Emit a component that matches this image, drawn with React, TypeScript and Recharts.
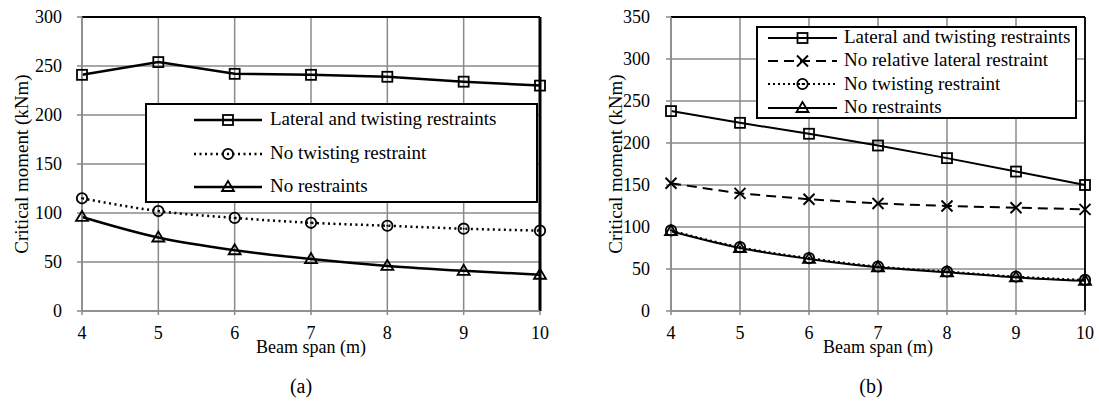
import React from "react";
import {
  LineChart,
  Line,
  XAxis,
  YAxis,
  CartesianGrid,
  ReferenceLine,
  Legend,
} from "recharts";

// ---------- data ----------
const spans = [4, 5, 6, 7, 8, 9, 10];

const aLateralTwisting = [241, 254, 242, 241, 239, 234, 230];
const aNoTwisting = [115, 102, 95, 90, 87, 84, 82];
const aNoRestraints = [96, 75, 62, 53, 46, 41, 37];

const bLateralTwisting = [238, 224, 211, 197, 182, 166, 150];
const bNoRelativeLateral = [152, 140, 133, 128, 125, 123, 121];
const bNoTwisting = [96, 76, 63, 53, 47, 41, 37];
const bNoRestraints = [95, 75, 62, 52, 46, 40, 36];

const aYTicks = [0, 50, 100, 150, 200, 250, 300];
const bYTicks = [0, 50, 100, 150, 200, 250, 300, 350];

const labelLateral = "Lateral and twisting restraints";
const labelNoRelLat = "No relative lateral restraint";
const labelNoTwist = "No twisting restraint";
const labelNoRestr = "No restraints";
const xTitle = "Beam span (m)";
const yTitle = "Critical moment (kNm)";

const dataA = spans.map((s, i) => ({
  span: s,
  lat: aLateralTwisting[i],
  notw: aNoTwisting[i],
  nor: aNoRestraints[i],
}));
const dataB = spans.map((s, i) => ({
  span: s,
  lat: bLateralTwisting[i],
  norl: bNoRelativeLateral[i],
  notw: bNoTwisting[i],
  nor: bNoRestraints[i],
}));

// ---------- styling ----------
const FONT = '"Liberation Serif", "Times New Roman", serif';
const GRID = "#8a8a8a";

type Shape = "square" | "circle" | "triangle" | "cross";

function Marker({ shape, cx, cy, sw = 1.8 }: { shape: Shape; cx: number; cy: number; sw?: number }) {
  if (shape === "square")
    return <rect x={cx - 5} y={cy - 5} width={10} height={10} fill="none" stroke="#000" strokeWidth={sw} />;
  if (shape === "circle")
    return (
      <g>
        <circle cx={cx} cy={cy} r={5.2} fill="none" stroke="#000" strokeWidth={sw} />
        <circle cx={cx} cy={cy} r={1} fill="#000" />
      </g>
    );
  if (shape === "triangle")
    return (
      <polygon
        points={`${cx},${cy - 6} ${cx - 6},${cy + 4} ${cx + 6},${cy + 4}`}
        fill="none"
        stroke="#000"
        strokeWidth={sw}
        strokeLinejoin="miter"
      />
    );
  return (
    <g stroke="#000" strokeWidth={2}>
      <line x1={cx - 5.5} y1={cy - 5.5} x2={cx + 5.5} y2={cy + 5.5} />
      <line x1={cx - 5.5} y1={cy + 5.5} x2={cx + 5.5} y2={cy - 5.5} />
    </g>
  );
}

const makeDot = (shape: Shape) => (props: any) => {
  const { cx, cy, index } = props;
  if (cx == null || cy == null) return <g key={`d-${shape}-${index}`} />;
  return (
    <g key={`d-${shape}-${index}`}>
      <Marker shape={shape} cx={cx} cy={cy} />
    </g>
  );
};

type LegItem = { label: string; shape: Shape; dash?: string; width: number };

function makeLegend(
  items: LegItem[],
  rowYs: number[],
  sampleX1: number,
  sampleX2: number,
  textX: number,
  fontSize: number
) {
  return () => (
    <div
      style={{
        position: "absolute",
        left: 0,
        top: 0,
        width: "100%",
        height: "100%",
        boxSizing: "border-box",
        border: "2px solid #000",
        background: "#fff",
        fontFamily: FONT,
      }}
    >
      {items.map((it, i) => (
        <div key={it.label}>
          <svg
            style={{ position: "absolute", left: sampleX1 - 2, top: rowYs[i] - 2 - 10 }}
            width={sampleX2 - sampleX1 + 4}
            height={20}
          >
            <line
              x1={0}
              y1={10}
              x2={sampleX2 - sampleX1}
              y2={10}
              stroke="#000"
              strokeWidth={it.width}
              strokeDasharray={it.dash}
            />
            <Marker shape={it.shape} cx={(sampleX2 - sampleX1) / 2} cy={10} />
          </svg>
          <div
            style={{
              position: "absolute",
              left: textX - 2,
              top: rowYs[i] - 2 - fontSize * 0.62,
              fontSize,
              lineHeight: `${fontSize * 1.15}px`,
              whiteSpace: "nowrap",
              color: "#000",
            }}
          >
            {it.label}
          </div>
        </div>
      ))}
    </div>
  );
}

const yTitleContent = (offsetX: number) => (props: any) => {
  const vb = props.viewBox || {};
  const x = (vb.x || 0) + offsetX;
  const y = (vb.y || 0) + (vb.height || 0) / 2;
  return (
    <text
      x={x}
      y={y}
      transform={`rotate(-90, ${x}, ${y})`}
      textAnchor="middle"
      dominantBaseline="central"
      fontFamily={FONT}
      fontSize={19}
      fill="#000"
    >
      {yTitle}
    </text>
  );
};

const xTitleContent = (dy: number) => (props: any) => {
  const vb = props.viewBox || {};
  const x = (vb.x || 0) + (vb.width || 0) / 2;
  const y = (vb.y || 0) + dy;
  return (
    <text x={x} y={y} textAnchor="middle" dominantBaseline="central" fontFamily={FONT} fontSize={18} fill="#000">
      {xTitle}
    </text>
  );
};

const tickStyle = { fontFamily: FONT, fontSize: 18, fill: "#000" };

export default function App() {
  const legendA: LegItem[] = [
    { label: labelLateral, shape: "square", width: 2.5 },
    { label: labelNoTwist, shape: "circle", dash: "2 3.5", width: 2.5 },
    { label: labelNoRestr, shape: "triangle", width: 2.5 },
  ];
  const legendB: LegItem[] = [
    { label: labelLateral, shape: "square", width: 2 },
    { label: labelNoRelLat, shape: "cross", dash: "10 6", width: 2 },
    { label: labelNoTwist, shape: "circle", dash: "2 3", width: 2 },
    { label: labelNoRestr, shape: "triangle", width: 2 },
  ];

  return (
    <div
      style={{
        position: "absolute",
        left: 0,
        top: 0,
        width: 1099,
        height: 412,
        background: "#fff",
        fontFamily: FONT,
        overflow: "hidden",
      }}
    >
      {/* Chart (a) */}
      <div style={{ position: "absolute", left: 0, top: 0 }}>
        <LineChart width={560} height={370} data={dataA} margin={{ top: 17, right: 20, bottom: 0, left: 0 }}>
          <CartesianGrid stroke={GRID} strokeWidth={1.5} verticalValues={spans} horizontalValues={aYTicks} />
          <XAxis
            dataKey="span"
            type="number"
            domain={[4, 10]}
            ticks={spans}
            height={59}
            tick={tickStyle}
            tickSize={4}
            tickMargin={11}
            stroke={GRID}
            strokeWidth={1.5}
            label={{ content: xTitleContent(36) }}
          />
          <YAxis
            type="number"
            domain={[0, 300]}
            ticks={aYTicks}
            width={82}
            tick={tickStyle}
            tickSize={5}
            tickMargin={15}
            stroke={GRID}
            strokeWidth={1.5}
            interval={0}
            label={{ content: yTitleContent(21) }}
          />
          <ReferenceLine y={300} stroke="#000" strokeWidth={2} />
          <ReferenceLine x={10} stroke="#000" strokeWidth={3} />
          <Line
            dataKey="notw"
            type="monotone"
            stroke="#000"
            strokeWidth={2.5}
            strokeDasharray="2 3.5"
            dot={makeDot("circle")}
            isAnimationActive={false}
          />
          <Line
            dataKey="nor"
            type="monotone"
            stroke="#000"
            strokeWidth={2.5}
            dot={makeDot("triangle")}
            isAnimationActive={false}
          />
          <Line
            dataKey="lat"
            type="linear"
            stroke="#000"
            strokeWidth={2.5}
            dot={makeDot("square")}
            isAnimationActive={false}
          />
          <Legend
            layout="vertical"
            align="center"
            verticalAlign="middle"
            wrapperStyle={{ left: 145, top: 103, width: 393, height: 100 }}
            content={makeLegend(legendA, [17, 51, 84], 49, 117, 125, 19)}
          />
        </LineChart>
      </div>

      {/* Chart (b) */}
      <div style={{ position: "absolute", left: 560, top: 0 }}>
        <LineChart width={539} height={370} data={dataB} margin={{ top: 17, right: 14, bottom: 0, left: 0 }}>
          <CartesianGrid stroke={GRID} strokeWidth={1.5} verticalValues={spans} horizontalValues={bYTicks} />
          <XAxis
            dataKey="span"
            type="number"
            domain={[4, 10]}
            ticks={spans}
            height={59}
            tick={tickStyle}
            tickSize={4}
            tickMargin={11}
            stroke={GRID}
            strokeWidth={1.5}
            label={{ content: xTitleContent(36) }}
          />
          <YAxis
            type="number"
            domain={[0, 350]}
            ticks={bYTicks}
            width={111}
            tick={tickStyle}
            tickSize={5}
            tickMargin={16}
            stroke={GRID}
            strokeWidth={1.5}
            interval={0}
            label={{ content: yTitleContent(55) }}
          />
          <ReferenceLine y={350} stroke="#000" strokeWidth={2} />
          <ReferenceLine x={10} stroke="#000" strokeWidth={1.8} />
          <Line
            dataKey="norl"
            type="linear"
            stroke="#000"
            strokeWidth={2}
            strokeDasharray="10 6"
            dot={makeDot("cross")}
            isAnimationActive={false}
          />
          <Line
            dataKey="notw"
            type="monotone"
            stroke="#000"
            strokeWidth={2}
            strokeDasharray="2 3"
            dot={makeDot("circle")}
            isAnimationActive={false}
          />
          <Line
            dataKey="nor"
            type="monotone"
            stroke="#000"
            strokeWidth={2}
            dot={makeDot("triangle")}
            isAnimationActive={false}
          />
          <Line
            dataKey="lat"
            type="linear"
            stroke="#000"
            strokeWidth={2}
            dot={makeDot("square")}
            isAnimationActive={false}
          />
          <Legend
            layout="vertical"
            align="center"
            verticalAlign="middle"
            wrapperStyle={{ left: 196, top: 26, width: 321, height: 93 }}
            content={makeLegend(legendB, [11.7, 35, 58.3, 81.7], 12, 81, 88, 19)}
          />
        </LineChart>
      </div>

      <div style={{ position: "absolute", left: 301, top: 386, transform: "translate(-50%, -50%)", fontSize: 20, color: "#000", whiteSpace: "nowrap" }}>
        (a)
      </div>
      <div style={{ position: "absolute", left: 871, top: 386, transform: "translate(-50%, -50%)", fontSize: 20, color: "#000", whiteSpace: "nowrap" }}>
        (b)
      </div>
    </div>
  );
}
